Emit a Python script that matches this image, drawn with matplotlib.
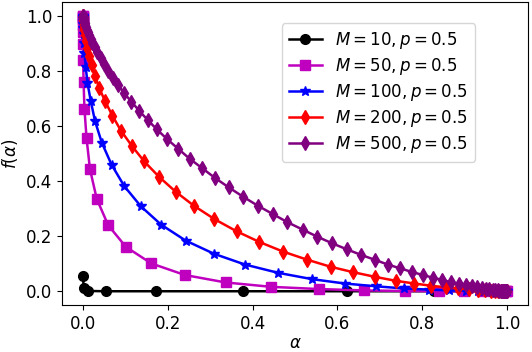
import matplotlib
matplotlib.use("Agg")
import matplotlib.pyplot as plt

# alpha values and f(alpha) values per series
a10 = [0, .001, .011, .055, .172, .377, .623, .828, .945, .989, .999]
f10 = [.055, .011, .001, 0, 0, 0, 0, 0, 0, 0, 0]

a50 = [0, 0, 0, 0, 0, 0, 0, 0, 0, .001, .003, .008, .016, .032, .059, .101, .161, .24, .336, .444,
       .556, .664, .76, .839, .899, .941, .968, .984, .992, .997, .999, 1]
f50 = [1, .999, .997, .992, .984, .968, .941, .899, .839, .76, .664, .556, .444, .336, .24, .161, .101,
       .059, .032, .016, .008, .003, .001, 0, 0, 0, 0, 0, 0, 0, 0, 0]

a100 = [0, 0, 0, 0, 0, 0, 0, 0, 0, .001, .002, .003, .006, .01, .018, .028, .044, .067, .097, .136, .184,
        .242, .309, .382, .46, .54, .618, .691, .758, .816, .864, .903, .933, .956, .972, .982, .99, .994,
        .997, .998, .999, 1]
f100 = [1, .999, .998, .997, .994, .99, .982, .972, .956, .933, .903, .864, .816, .758, .691, .618, .54,
        .46, .382, .309, .242, .184, .136, .097, .067, .044, .028, .018, .01, .006, .003, .002, .001, 0,
        0, 0, 0, 0, 0, 0, 0, 0]

a200 = [0, 0, 0, 0, 0, 0, 0, 0, .001, .001, .002, .003, .004, .007, .01, .014, .02, .028, .038, .052,
        .069, .089, .115, .144, .179, .218, .262, .31, .362, .416, .472, .528, .584, .638, .69, .738,
        .782, .821, .856, .885, .911, .931, .948, .962, .972, .98, .986, .99, .993, .996, .997, .998,
        .999, 1]
f200 = [1, .999, .998, .997, .996, .993, .99, .986, .98, .972, .962, .948, .931, .911, .885, .856, .821,
        .782, .738, .69, .638, .584, .528, .472, .416, .362, .31, .262, .218, .179, .144, .115, .089,
        .069, .052, .038, .028, .02, .014, .01, .007, .004, .003, .002, .001, .001, 0, 0, 0, 0, 0, 0,
        0, 0]

a500 = [0, 0, 0, 0, 0, .001, .001, .001, .001, .002, .002, .003, .004, .005, .007, .009, .011, .014,
        .018, .022, .027, .033, .041, .049, .059, .07, .083, .097, .114, .132, .152, .174, .198, .224,
        .251, .281, .311, .344, .377, .412, .447, .482, .518, .553, .588, .623, .656, .689, .719, .749,
        .776, .802, .826, .848, .868, .886, .903, .917, .93, .941, .951, .959, .967, .973, .978, .982,
        .986, .989, .991, .993, .995, .996, .997, .998, .999, 1]
f500 = [1, .999, .998, .997, .996, .995, .993, .991, .989, .986, .982, .978, .973, .967, .959, .951,
        .941, .93, .917, .903, .886, .868, .848, .826, .802, .776, .749, .719, .689, .656, .623, .588,
        .553, .518, .482, .447, .412, .377, .344, .311, .281, .251, .224, .198, .174, .152, .132, .114,
        .097, .083, .07, .059, .049, .041, .033, .027, .022, .018, .014, .011, .009, .007, .005, .004,
        .003, .002, .002, .001, .001, .001, .001, 0, 0, 0, 0, 0]

Ms = [10, 50, 100, 200, 500]
alphas = [a10, a50, a100, a200, a500]
fs = [f10, f50, f100, f200, f500]
labels = [r'$M=%d, p=0.5$' % m for m in Ms]

plt.rcParams['font.size'] = 12
fig = plt.figure(figsize=(5.32, 3.52), dpi=100)
ax = fig.add_axes([0.1165, 0.1335, 0.876, 0.86])
styles = ['-o', '-s', '-*', '-d', '-d']
colors = ['k', 'm', 'b', 'r', 'purple']
for a, f, st, col, lab in zip(alphas, fs, styles, colors, labels):
    ax.plot(a, f, st, color=col, ms=7, lw=1.8, label=lab)
ax.legend(loc='upper right', bbox_to_anchor=(0.886, 0.93), borderaxespad=0, labelspacing=0.3)
ax.set_xlabel(r'$\alpha$', labelpad=1)
ax.set_ylabel(r'$f(\alpha)$')
fig.savefig("out.png", dpi=100)
